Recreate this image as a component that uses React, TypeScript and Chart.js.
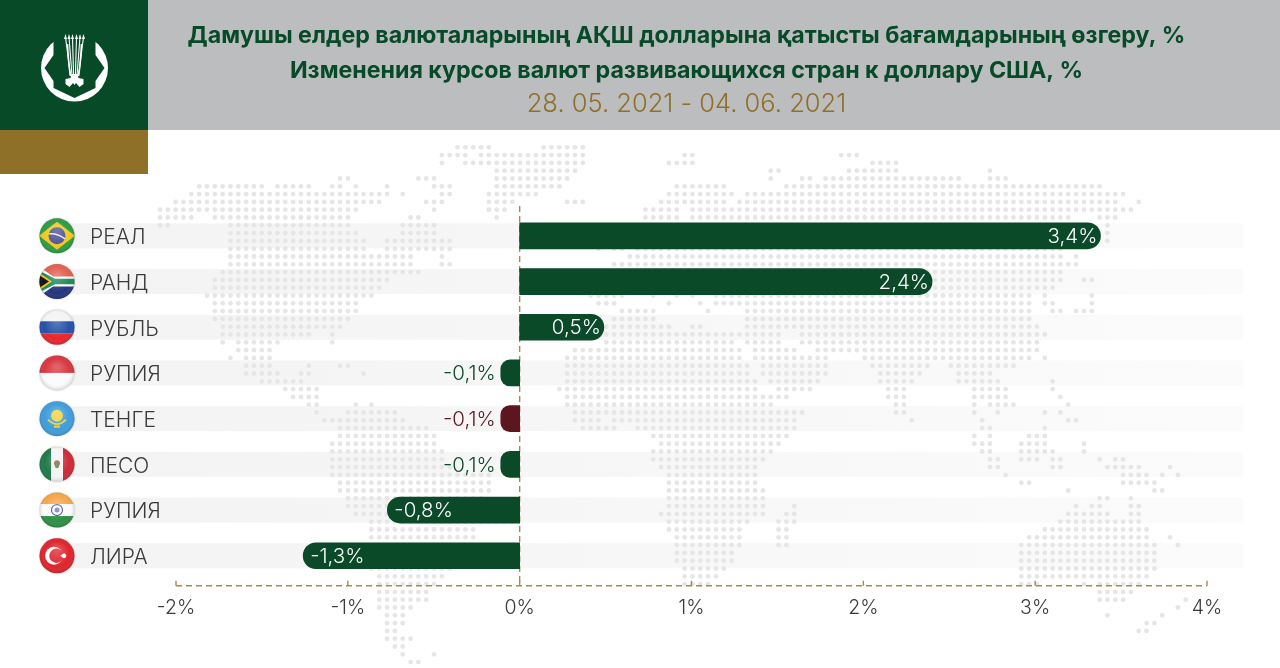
import React, { useEffect, useRef } from "react";
import { Chart, registerables } from "chart.js";

Chart.register(...registerables);

const currencies = ["РЕАЛ", "РАНД", "РУБЛЬ", "РУПИЯ", "ТЕНГЕ", "ПЕСО", "РУПИЯ", "ЛИРА"];
const changes = [3.38, 2.4, 0.49, -0.11, -0.11, -0.11, -0.77, -1.26];
const barColors = ["#0a4a28", "#0a4a28", "#0a4a28", "#0a4a28", "#5c1620", "#0a4a28", "#0a4a28", "#0a4a28"];
const titleLines = [
  "Дамушы елдер валюталарының АҚШ долларына қатысты бағамдарының өзгеру, %",
  "Изменения курсов валют развивающихся стран к доллару США, %",
];
const dateRange = "28. 05. 2021 - 04. 06. 2021";

// Decorative dotted world map: one string per grid row, each a list of column runs.
const mapRows = [
  "38-42,49-54",
  "36-39,41-54,67-68,87-89",
  "36,39-54,65-68,91-94",
  "43-53,78-79,88-94,106",
  "23-24,33-35,43-52,78,82-83,85-102,106-108",
  "5-13,15-19,22-23,25,29,35-37,43-51,66-72,80-120",
  "4-29,31,36-37,42-48,65-73,75-123",
  "2-28,34-36,42-45,52-54,64-72,74-122,125",
  "0-25,35,42-44,62-66,68-124",
  "0-4,7-24,32-33,43,62-66,68-116,120-122",
  "0-1,9-24,31-35,62-118,121",
  "9-25,31-35,62-118,121",
  "9-26,29-37,62-118,121",
  "9-26,29-37,56,58-59,61-115",
  "9-32,36,60-115,117",
  "9-32,36-37,58-117",
  "8-33,58-115",
  "7-29,58-115,118-119",
  "7-28,56-114",
  "6-27,55-59,63,66,68,71-111,113,119",
  "7-25,56-58,65,69,71-111,113-114,119",
  "7-25,59-63,70,75-111,114-115,117-119",
  "7-24,58-63,75-111",
  "8-23,57-65,68-69,75-112",
  "8-19,22,57-74,75-79,82-113",
  "8,10-15,22,57-73,75-79,82-112",
  "10-14,53-74,76-81,84-112",
  "9,11-14,52-74,76-85,90-111,113",
  "11-14,19,23-24,52-75,77-85,91-98,101-109",
  "11-15,18-19,26,52-75,77-85,92-97,102-106",
  "13-18,52-76,78-84,92-96,102-107,114",
  "16-20,51-76,79-83,93-95,104-108,114",
  "17-20,52-80,93-95,104-108,115",
  "19-20,25,27,52-78,94-95,104,106-109,116",
  "20,24-30,53-82,94-95,104,107,113,115",
  "21-31,53-56,58-81,96,105,116-117",
  "23-34,54-58,61-81,105-106,113",
  "23-35,63-80,104,106,111-113",
  "22-35,64-79,104-106,110-113,118",
  "22-36,63-78,105-106,110-114,118",
  "22-36,63-77,106-107,110-112,114-115,120,122-123",
  "22-37,64-76,106-107,114-115,121-125,129",
  "22-42,65-76,108,123-126,128,130",
  "23-42,65-76,110-111,123-127",
  "23-42,65-77,116,127-128",
  "24-41,65-77,120-121,124",
  "24-45,65-77,81,117,119-120,124-125",
  "25-45,64-77,80-81,116-121,124-125",
  "27-45,65-75,79-81,115-125",
  "27-40,65-74,79-80,113-126",
  "27-40,66-74,79-80,111-126,129",
  "27-45,66-74,79-80,110-127,130",
  "27-45,66-73,110-127",
  "27-45,66-73,110-127",
  "27-37,67-72,110-127",
  "28-36,67-71,110-126",
  "28-35,67-70,110-112,118,120-125",
  "28-34,120-124",
  "28-34,120-123,131",
  "28-32,130",
  "29-31,121,128",
  "29-31,126-127",
  "29-30,125-126",
  "29-32",
  "30-31",
  "31,35",
  "32-33",
];

const fontFamily = "Inter, 'Open Sans', sans-serif";
const GREEN = "#064a28";
const GOLD = "#8e7029";
const DASH = "#a68b50";

type Ctx = CanvasRenderingContext2D;

function rect(c: Ctx, col: string, x: number, y: number, w: number, h: number) {
  c.fillStyle = col;
  c.fillRect(x, y, w, h);
}
function poly(c: Ctx, col: string, pts: number[][]) {
  c.fillStyle = col;
  c.beginPath();
  pts.forEach((p, i) => (i ? c.lineTo(p[0], p[1]) : c.moveTo(p[0], p[1])));
  c.closePath();
  c.fill();
}
function disc(c: Ctx, col: string, x: number, y: number, r: number) {
  c.fillStyle = col;
  c.beginPath();
  c.arc(x, y, r, 0, Math.PI * 2);
  c.fill();
}

// Flag painters work in a box of -18..18 around the flag centre.
const flagPainters: ((c: Ctx) => void)[] = [
  (c) => {
    rect(c, "#2f9a46", -18, -18, 36, 36);
    poly(c, "#f2c81e", [[-18, 0], [0, -14], [18, 0], [0, 14]]);
    disc(c, "#4a4f96", 0, 0, 8.5);
    c.strokeStyle = "#e8e8e8";
    c.lineWidth = 1.4;
    c.beginPath();
    c.moveTo(-8, -2);
    c.quadraticCurveTo(0, -3, 8, 3);
    c.stroke();
  },
  (c) => {
    rect(c, "#e2604f", -18, -18, 36, 18);
    rect(c, "#24357f", -18, 0, 36, 18);
    poly(c, "#ffffff", [[-18, -15], [-4, -5], [18, -5], [18, 5], [-4, 5], [-18, 15]]);
    poly(c, "#1f8a57", [[-18, -11], [-2, -2.8], [18, -2.8], [18, 2.8], [-2, 2.8], [-18, 11]]);
    poly(c, "#f0c030", [[-18, -9], [-5, 0], [-18, 9]]);
    poly(c, "#111111", [[-18, -6.5], [-8, 0], [-18, 6.5]]);
  },
  (c) => {
    rect(c, "#f4f4f4", -18, -18, 36, 12);
    rect(c, "#2451a6", -18, -6, 36, 12);
    rect(c, "#e8262b", -18, 6, 36, 12);
  },
  (c) => {
    rect(c, "#d8363f", -18, -18, 36, 18);
    rect(c, "#fbfbfb", -18, 0, 36, 18);
  },
  (c) => {
    rect(c, "#3f9ddb", -18, -18, 36, 36);
    disc(c, "#f3d23c", 0, -3, 6);
    c.strokeStyle = "#f3d23c";
    c.lineWidth = 1.6;
    c.beginPath();
    c.moveTo(-9, 1);
    c.quadraticCurveTo(0, 10, 9, 1);
    c.stroke();
    rect(c, "#f3d23c", -3, 7, 6, 2);
  },
  (c) => {
    rect(c, "#1f7a4a", -18, -18, 12, 36);
    rect(c, "#f4f4f4", -6, -18, 12, 36);
    rect(c, "#cf2a36", 6, -18, 12, 36);
    disc(c, "#8a6a46", 0, -1, 3);
    disc(c, "#5f8a55", 0, 2, 2);
  },
  (c) => {
    rect(c, "#f6a54a", -18, -18, 36, 12);
    rect(c, "#fbfbfb", -18, -6, 36, 12);
    rect(c, "#2f8f46", -18, 6, 36, 12);
    c.strokeStyle = "#4a4f96";
    c.lineWidth = 1.2;
    c.beginPath();
    c.arc(0, 0, 5.5, 0, Math.PI * 2);
    c.stroke();
    disc(c, "#7d80b8", 0, 0, 2.5);
  },
  (c) => {
    rect(c, "#e0242c", -18, -18, 36, 36);
    disc(c, "#ffffff", -3, 0, 9);
    disc(c, "#e0242c", -0.5, 0, 7.2);
    poly(c, "#ffffff", [[3, 0], [8, -2.5], [7, 0], [8, 2.5]]);
    disc(c, "#ffffff", 7, 0, 2.2);
  },
];

function drawLogo(c: Ctx) {
  c.save();
  c.translate(74.5, 68);
  disc(c, "#ffffff", 0, 0, 33.5);
  poly(c, GREEN, [
    [-30, 0], [-21, -13], [-21, -36], [21, -36], [21, -13], [30, 0],
    [21, 13], [21, 20], [0, 30], [-21, 20], [-21, 13],
  ]);
  c.strokeStyle = "#ffffff";
  c.lineWidth = 1.1;
  [-9, -5.5, -2, 2, 5.5, 9].forEach((x) => {
    c.beginPath();
    c.moveTo(x, -31);
    c.lineTo(x * 0.45, 8);
    c.stroke();
    poly(c, "#ffffff", [[x, -34], [x - 1.5, -29], [x + 1.5, -29]]);
  });
  c.lineWidth = 1.6;
  c.beginPath();
  c.moveTo(-7, -24);
  c.quadraticCurveTo(-6, -4, -4, 8);
  c.moveTo(7, -24);
  c.quadraticCurveTo(6, -4, 4, 8);
  c.stroke();
  poly(c, "#ffffff", [
    [-3, 6], [3, 6], [4, 10], [9, 11], [9, 16], [5, 19], [1.5, 15],
    [0, 17], [-1.5, 15], [-5, 19], [-9, 16], [-9, 11], [-4, 10],
  ]);
  c.restore();
}

const backdrop = {
  id: "backdrop",
  beforeDraw(chart: any) {
    const c: Ctx = chart.ctx;
    const { x, y } = chart.scales;
    c.save();
    rect(c, "#bcbdbf", 148, 0, 1132, 130);
    rect(c, GREEN, 0, 0, 148, 130);
    rect(c, GOLD, 0, 130, 148, 44);
    drawLogo(c);
    const g = c.createLinearGradient(57, 0, 1243, 0);
    g.addColorStop(0, "#f3f3f4");
    g.addColorStop(1, "#fbfbfb");
    currencies.forEach((_, i) => {
      const py = y.getPixelForValue(i);
      c.fillStyle = g;
      c.fillRect(57, py - 12.5, 1186, 25);
    });
    c.fillStyle = "#e6e6e7";
    mapRows.forEach((row, r) => {
      row.split(",").forEach((run) => {
        const [a, b] = run.split("-").map(Number);
        for (let k = a; k <= (b ?? a); k++) {
          c.beginPath();
          c.arc(160 + k * 7.83, 147.3 + r * 7.8, 2.4, 0, Math.PI * 2);
          c.fill();
        }
      });
    });
    const axisY = chart.chartArea.bottom + 7.2;
    const zero = x.getPixelForValue(0);
    c.strokeStyle = DASH;
    c.lineWidth = 1.4;
    c.setLineDash([6, 4]);
    c.beginPath();
    c.moveTo(zero, 206);
    c.lineTo(zero, axisY);
    c.moveTo(x.left, axisY);
    c.lineTo(x.right, axisY);
    c.stroke();
    c.setLineDash([]);
    x.ticks.forEach((t: any) => {
      const px = x.getPixelForValue(t.value);
      c.beginPath();
      c.moveTo(px, axisY - 5);
      c.lineTo(px, axisY);
      c.stroke();
    });
    c.restore();
  },
};

const overlay = {
  id: "overlay",
  afterLayout(chart: any) {
    chart.boxes.forEach((b: any) => {
      if (!b.isHorizontal || b.axis || !b.options || b.options.text === undefined) return;
      b.left = 148;
      b.right = 1225;
    });
  },
  afterDatasetsDraw(chart: any) {
    const c: Ctx = chart.ctx;
    const { y } = chart.scales;
    const meta = chart.getDatasetMeta(0);
    c.save();
    c.font = `300 20.5px ${fontFamily}`;
    c.textBaseline = "middle";
    changes.forEach((v, i) => {
      const bar = meta.data[i];
      const text = v.toFixed(1).replace(".", ",") + "%";
      const py = bar.y + 1;
      if (Math.abs(v) < 0.3) {
        c.fillStyle = barColors[i];
        c.textAlign = "right";
        c.fillText(text, bar.x - 5, py);
      } else {
        c.fillStyle = "#ffffff";
        c.textAlign = v > 0 ? "right" : "left";
        c.fillText(text, bar.x + (v > 0 ? -3 : 7), py);
      }
    });
    c.restore();
    flagPainters.forEach((paint, i) => {
      const py = y.getPixelForValue(i);
      c.save();
      c.translate(57, py);
      c.shadowColor = "rgba(0,0,0,0.25)";
      c.shadowBlur = 2;
      disc(c, "#ffffff", 0, 0, 17.5);
      c.shadowColor = "transparent";
      c.beginPath();
      c.arc(0, 0, 17.5, 0, Math.PI * 2);
      c.clip();
      paint(c);
      const gl = c.createRadialGradient(0, -6, 2, 0, 0, 18);
      gl.addColorStop(0, "rgba(255,255,255,0.22)");
      gl.addColorStop(0.7, "rgba(255,255,255,0)");
      gl.addColorStop(1, "rgba(0,0,0,0.18)");
      c.fillStyle = gl;
      c.fillRect(-18, -18, 36, 36);
      c.restore();
    });
  },
};

export default function App() {
  const ref = useRef<HTMLCanvasElement>(null);
  useEffect(() => {
    const chart = new Chart(ref.current!, {
      type: "bar",
      data: {
        labels: currencies,
        datasets: [
          {
            data: changes,
            backgroundColor: barColors,
            barThickness: 26,
            borderRadius: 13,
            borderSkipped: "start",
          },
        ],
      },
      options: {
        indexAxis: "y",
        responsive: false,
        animation: false,
        layout: { padding: { left: 90, right: 73, top: 0, bottom: 0 } },
        plugins: {
          legend: { display: false },
          tooltip: { enabled: false },
          title: {
            display: true,
            text: titleLines,
            color: GREEN,
            font: { family: fontFamily, size: 23.2, weight: "700", lineHeight: 35 / 23.2 },
            padding: { top: 18.5, bottom: 0 },
          },
          subtitle: {
            display: true,
            text: dateRange,
            color: GOLD,
            font: { family: fontFamily, size: 25.5, weight: "300", lineHeight: 32 / 25.5 },
            padding: { top: 0, bottom: 92.5 },
          },
        },
        scales: {
          x: {
            type: "linear",
            min: -2,
            max: 4,
            grid: { display: false },
            border: { display: false },
            afterFit: (s: any) => {
              s.height = 89.4;
            },
            ticks: {
              stepSize: 1,
              padding: 10,
              color: "#3a3a3a",
              maxRotation: 0,
              font: { family: fontFamily, size: 19.5, weight: "300" },
              callback: (v: any) => `${v}%`,
            },
          },
          y: {
            type: "category",
            grid: { display: false },
            border: { display: false },
            afterFit: (s: any) => {
              s.width = 86;
            },
            ticks: {
              crossAlign: "far",
              labelOffset: 2,
              color: "#3a3a3a",
              font: { family: fontFamily, size: 21, weight: "300" },
            },
          },
        },
      },
      plugins: [backdrop, overlay],
    } as any);
    return () => chart.destroy();
  }, []);
  return (
    <div style={{ position: "fixed", left: 0, top: 0, width: 1280, height: 668, background: "#fff" }}>
      <canvas ref={ref} width={1280} height={668} style={{ display: "block" }} />
    </div>
  );
}
